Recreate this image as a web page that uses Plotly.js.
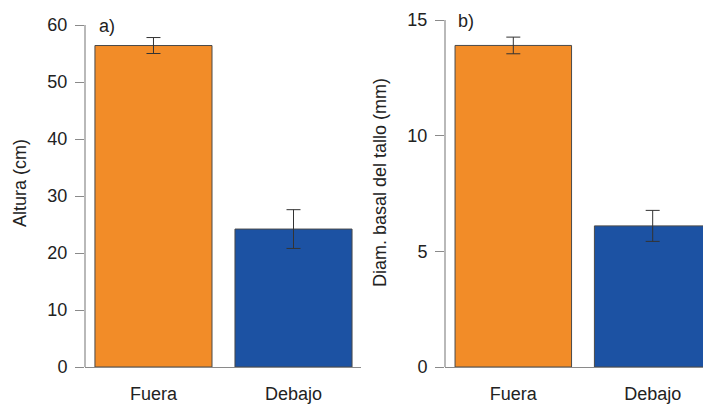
<!DOCTYPE html>
<html><head><meta charset="utf-8">
<script src="https://cdn.plot.ly/plotly-3.0.1.min.js"></script>
<style>html,body{margin:0;padding:0;background:#fff}#chart{width:703px;height:405px}</style>
</head><body><div id="chart"></div>
<script>
const categories = ['Fuera', 'Debajo'];
const heightMean = [56.4, 24.2];
const heightSE = [1.4, 3.4];
const diamMean = [13.9, 6.1];
const diamSE = [0.36, 0.67];
const barColors = ['#F28C28', '#1C52A3'];
const heightTicks = [0, 10, 20, 30, 40, 50, 60];
const diamTicks = [0, 5, 10, 15];
const heightTitle = 'Altura (cm)';
const diamTitle = 'Diam. basal del tallo (mm)';
const panelLabels = ['a)', 'b)'];

const FONT = 'Liberation Sans, Arial, Helvetica, sans-serif';
const AXC = '#8a8a8a';

function barTrace(y, se, xa, ya) {
  return {
    type: 'bar', x: categories, y: y, xaxis: xa, yaxis: ya,
    width: 0.836,
    marker: {color: barColors, line: {color: '#4a4a4a', width: 1}},
    error_y: {type: 'data', array: se, visible: true, color: '#333333', thickness: 1, width: 7},
    showlegend: false, hoverinfo: 'none'
  };
}

const data = [
  barTrace(heightMean, heightSE, 'x', 'y'),
  barTrace(diamMean, diamSE, 'x2', 'y2')
];

function yax(ticks, range, anchor) {
  return {
    domain: [38 / 405, 1], range: range, anchor: anchor,
    tickmode: 'array', tickvals: ticks, ticktext: ticks.map(String),
    ticks: 'outside', ticklen: 9, tickcolor: AXC, tickwidth: 1,
    showline: false, showgrid: false, zeroline: false,
    tickfont: {family: FONT, size: 18, color: '#222'},
    ticklabelstandoff: 4, automargin: false
  };
}
function xax(domain, range, anchor) {
  return {
    domain: domain, range: range, anchor: anchor, type: 'category',
    showline: true, linecolor: AXC, linewidth: 1.2,
    ticks: '', showgrid: false, zeroline: false,
    tickfont: {family: FONT, size: 18, color: '#222'},
    ticklabelstandoff: 10, automargin: false
  };
}

const layout = {
  width: 703, height: 405,
  margin: {l: 0, r: 0, t: 0, b: 0},
  paper_bgcolor: '#fff', plot_bgcolor: 'rgba(0,0,0,0)',
  font: {family: FONT, size: 18, color: '#222'},
  bargap: 0,
  xaxis: xax([85 / 703, 361 / 703], [-0.489, 1.482], 'y'),
  yaxis: yax(heightTicks, [0, 367 / 5.7], 'x'),
  xaxis2: xax([445 / 703, 1], [-0.49, 1.361], 'y2'),
  yaxis2: yax(diamTicks, [0, 367 / 23.133], 'x2'),
  shapes: [
    {type: 'line', xref: 'x domain', yref: 'y', x0: 0, x1: 0, y0: heightTicks[0], y1: heightTicks[heightTicks.length - 1], line: {color: AXC, width: 1.2}},
    {type: 'line', xref: 'x2 domain', yref: 'y2', x0: 0, x1: 0, y0: diamTicks[0], y1: diamTicks[diamTicks.length - 1], line: {color: AXC, width: 1.2}}
  ],
  annotations: [
    {text: heightTitle, xref: 'paper', yref: 'paper', x: 20 / 703, y: (405 - 183) / 405, xanchor: 'center', yanchor: 'middle', textangle: -90, showarrow: false, font: {family: FONT, size: 18, color: '#222'}},
    {text: diamTitle, xref: 'paper', yref: 'paper', x: 380 / 703, y: (405 - 183) / 405, xanchor: 'center', yanchor: 'middle', textangle: -90, showarrow: false, font: {family: FONT, size: 18, color: '#222'}},
    {text: panelLabels[0], xref: 'paper', yref: 'paper', x: 97 / 703, y: (405 - 26) / 405, xanchor: 'left', yanchor: 'middle', showarrow: false, font: {family: FONT, size: 18, color: '#222'}},
    {text: panelLabels[1], xref: 'paper', yref: 'paper', x: 456 / 703, y: (405 - 21) / 405, xanchor: 'left', yanchor: 'middle', showarrow: false, font: {family: FONT, size: 18, color: '#222'}}
  ]
};

Plotly.newPlot('chart', data, layout, {staticPlot: true, displayModeBar: false});
</script>
</body></html>
